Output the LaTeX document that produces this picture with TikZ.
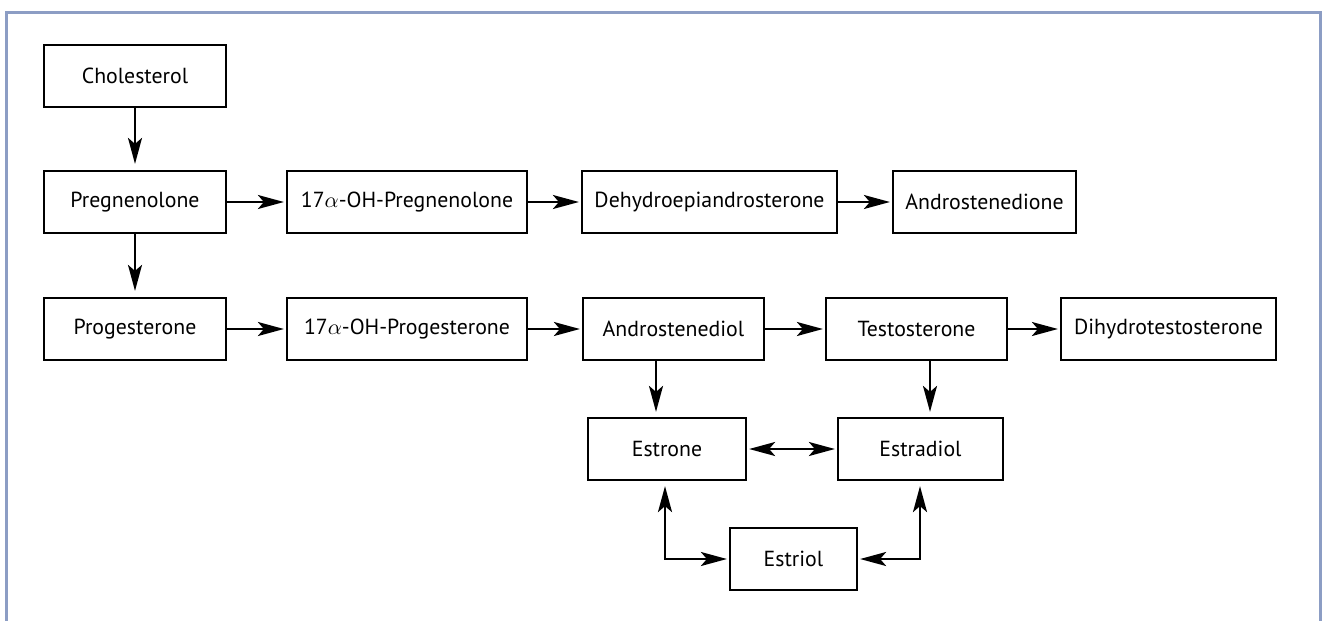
\documentclass[tikz,border=0pt]{standalone}
\usepackage{fontspec}
\setmainfont{PT Sans}
\usetikzlibrary{arrows.meta}
\definecolor{framecol}{RGB}{140,157,196}
\begin{document}
\begin{tikzpicture}[x=0.5pt,y=-0.5pt,
	box/.style={draw,line width=1.1pt,minimum height=31pt,inner sep=0pt,font=\fontsize{10.9}{12}\selectfont},
	arr/.style={-{Stealth[length=13pt,width=7pt,inset=3pt]},line width=1.2pt},
	darr/.style={{Stealth[length=13pt,width=7pt,inset=3pt]}-{Stealth[length=13pt,width=7pt,inset=3pt]},line width=1.2pt}]
	\useasboundingbox (0,0) rectangle (1323,621);
	\draw[framecol,line width=1.5pt] (6,640)--(6,12)--(1320,12)--(1320,640);
	% first column
	\node[box,minimum width=91pt] (chol) at (135,76) {Cholesterol};
	\node[box,minimum width=91pt] (preg) at (135,202) {Pregnenolone};
	\node[box,minimum width=91pt] (prog) at (135,329) {Progesterone};
	% upper row
	\node[box,minimum width=120pt] (ohpreg) at (407,202) {17$\alpha$-OH-Pregnenolone};
	\node[box,minimum width=127.5pt] (dhea) at (709.5,202) {Dehydroepiandrosterone};
	\node[box,minimum width=91.5pt] (adione) at (984.5,202) {Androstenedione};
	% lower row
	\node[box,minimum width=120pt] (ohprog) at (407,329) {17$\alpha$-OH-Progesterone};
	\node[box,minimum width=90.5pt] (adiol) at (673.5,329) {Androstenediol};
	\node[box,minimum width=90.5pt] (testo) at (916.5,329) {Testosterone};
	\node[box,minimum width=107.5pt] (dht) at (1168.5,329) {Dihydrotestosterone};
	% estrogens
	\node[box,minimum width=79pt] (estrone) at (667,449) {Estrone};
	\node[box,minimum width=82.5pt] (estradiol) at (920.5,449) {Estradiol};
	\node[box,minimum width=63.5pt] (estriol) at (793.5,559) {Estriol};
	% arrows
	\draw[arr,shorten >=3pt] (chol) -- (preg);
	\draw[arr,shorten >=3pt] (preg) -- (prog);
	\draw[arr,shorten >=1pt] (preg) -- (ohpreg);
	\draw[arr,shorten >=1pt] (ohpreg) -- (dhea);
	\draw[arr,shorten >=1pt] (dhea) -- (adione);
	\draw[arr,shorten >=1pt] (prog) -- (ohprog);
	\draw[arr,shorten >=1pt] (ohprog) -- (adiol);
	\draw[arr,shorten >=1pt] (adiol) -- (testo);
	\draw[arr,shorten >=1pt] (testo) -- (dht);
	\draw[arr,shorten >=2.5pt] ([xshift=-8.75pt]adiol.south) -- ([xshift=-8.75pt]adiol.south |- estrone.north);
	\draw[arr,shorten >=2.5pt] ([xshift=6.75pt]testo.south) -- ([xshift=6.75pt]testo.south |- estradiol.north);
	\draw[darr,shorten <=1pt,shorten >=1pt] (estrone) -- (estradiol);
	\draw[darr,shorten <=2.5pt,shorten >=1pt] ([xshift=-1pt]estrone.south) |- (estriol.west);
	\draw[darr,shorten <=2.5pt,shorten >=1pt] ([xshift=-0.25pt]estradiol.south) |- (estriol.east);
\end{tikzpicture}
\end{document}
